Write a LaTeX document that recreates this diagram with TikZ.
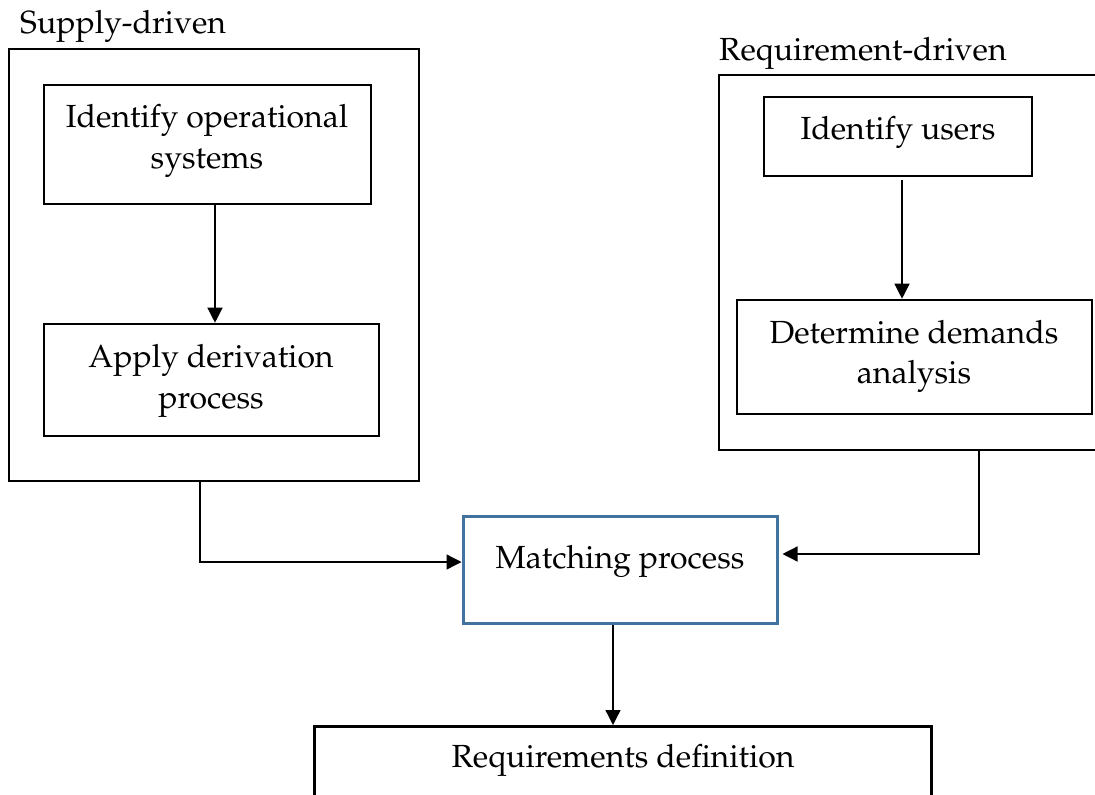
\documentclass[tikz,border=0pt]{standalone}
\usepackage[T1]{fontenc}
\usepackage{mathpazo}
\usetikzlibrary{arrows.meta}
\definecolor{matchblue}{RGB}{66,114,158}
\tikzset{
  x=1pt, y=-1pt,
  frame/.style={draw=black, line width=2.6pt},
  stepbox/.style={draw=black, line width=2.6pt},
  txt/.style={inner sep=0pt, anchor=base, font=\fontsize{32}{40}\selectfont},
  title/.style={inner sep=0pt, anchor=base west, font=\fontsize{32}{38}\selectfont},
  flow/.style={draw=black, line width=1.3pt, -{Triangle[length=15pt,width=15pt]}}
}
\begin{document}
\begin{tikzpicture}
\useasboundingbox (0,0) rectangle (1095,795);
\clip (0,0) rectangle (1095,795);
\fill[white] (0,0) rectangle (1095,795);

% supply-driven group
\node[title] (supplylbl) at (20,33) {Supply-driven};
\draw[frame] (9,49) rectangle (419,481);
\node[stepbox, minimum width=327pt, minimum height=119pt, inner sep=0pt] (idops) at (207.5,144.5) {};
\node[txt] (idops1) at (207,127) {Identify operational};
\node[txt] (idops2) at (207,168) {systems};
\node[stepbox, minimum width=335pt, minimum height=112pt, inner sep=0pt] (derive) at (211.5,380) {};
\node[txt] (derive1) at (211,367) {Apply derivation};
\node[txt] (derive2) at (211,408) {process};
\coordinate (supplyout) at (200,481);

% requirement-driven group
\node[title] (reqlbl) at (719,60) {Requirement-driven};
\draw[frame] (719,75) rectangle (1110,450);
\node[stepbox, minimum width=268pt, minimum height=79pt, inner sep=0pt] (idusers) at (898,136.5) {};
\node[txt] (idusers1) at (898,139) {Identify users};
\node[stepbox, minimum width=355pt, minimum height=114pt, inner sep=0pt] (demand) at (914.5,357) {};
\node[txt] (demand1) at (914,343) {Determine demands};
\node[txt] (demand2) at (914,383) {analysis};
\coordinate (reqout) at (979,450);

% matching and result
\node[draw=matchblue, line width=3pt, minimum width=314pt, minimum height=107pt, inner sep=0pt] (match) at (620,569.5) {};
\node[txt] (match1) at (620,568) {Matching process};
\node[stepbox, minimum width=617pt, minimum height=150pt, inner sep=0pt, anchor=north] (reqdef) at (623,725) {};
\node[txt] (reqdef1) at (623,767) {Requirements definition};

% connectors
\draw[flow] (idops.south -| 215,0) -- (derive.north -| 215,0);
\draw[flow] ([yshift=-3pt]idusers.south -| 902,0) -- (demand.north -| 902,0);
\draw[flow] (supplyout) |- (match.west |- 0,562);
\draw[flow] (reqout) |- ([xshift=4pt]match.east |- 0,554);
\draw[flow] (match.south -| 613,0) -- (reqdef.north -| 613,0);
\end{tikzpicture}
\end{document}
